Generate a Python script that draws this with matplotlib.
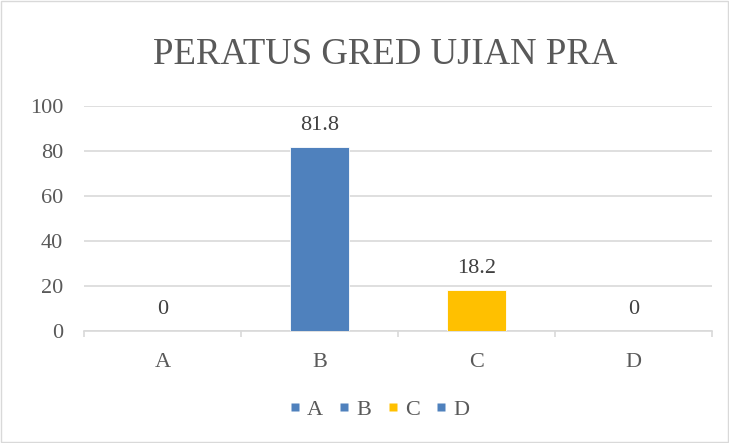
import matplotlib
matplotlib.use("Agg")
import matplotlib.pyplot as plt
from matplotlib.lines import Line2D
from matplotlib.patches import Rectangle

categories = ["A", "B", "C", "D"]
values = [0, 81.8, 18.2, 0]
labels = ["0", "81.8", "18.2", "0"]
colors = ["#4F81BD", "#4F81BD", "#FFC000", "#4F81BD"]
y_ticks = [0, 20, 40, 60, 80, 100]

plt.rcParams["font.family"] = ["Liberation Serif", "DejaVu Serif"]

fig = plt.figure(figsize=(7.29, 4.43), dpi=100)
ax = fig.add_axes([0.1152, 0.2528, 0.8615, 0.5079])

x = list(range(len(categories)))
ax.bar(x, values, width=0.37, color=colors, edgecolor="#ffffff", linewidth=0.6, zorder=3)

for xi, v, lab in zip(x, values, labels):
    ax.annotate(lab, (xi, v), xytext=(0, 15.5), textcoords="offset points",
                ha="center", va="center", fontsize=16, color="#404040")

ax.set_xlim(-0.5, 3.5)
ax.set_ylim(0, 100)
ax.set_yticks(y_ticks)
ax.set_xticks(x)
ax.set_xticklabels(categories)
ax.set_xticks([-0.5, 0.5, 1.5, 2.5, 3.5], minor=True)

for s in ax.spines.values():
    s.set_visible(False)
ax.spines["bottom"].set_visible(True)
ax.spines["bottom"].set_color("#d9d9d9")
ax.spines["bottom"].set_linewidth(1.2)

ax.grid(axis="y", color="#d9d9d9", linewidth=1.2, zorder=0)
ax.tick_params(axis="y", length=0, pad=15, labelsize=16, labelcolor="#595959")
ax.tick_params(axis="x", which="major", length=0, pad=16, labelsize=16, labelcolor="#595959")
ax.tick_params(axis="x", which="minor", length=4, width=1.2, color="#d9d9d9")

fig.text(0.528, 0.876, "PERATUS GRED UJIAN PRA", ha="center", va="center",
         fontsize=26.5, color="#595959")

handles = [Line2D([], [], linestyle="none", marker="s", markersize=6,
                  markerfacecolor=c, markeredgecolor="none") for c in colors]
fig.legend(handles, categories, loc="center", bbox_to_anchor=(0.521, 0.0745),
           ncol=4, frameon=False, fontsize=16, labelcolor="#595959",
           handlelength=0.4, handletextpad=0.36,
           columnspacing=0.75, borderpad=0.2)

fig.add_artist(Rectangle((0.002, 0.003), 0.996, 0.994, transform=fig.transFigure,
                         fill=False, edgecolor="#d9d9d9", linewidth=1))

fig.savefig("out.png", dpi=100)
